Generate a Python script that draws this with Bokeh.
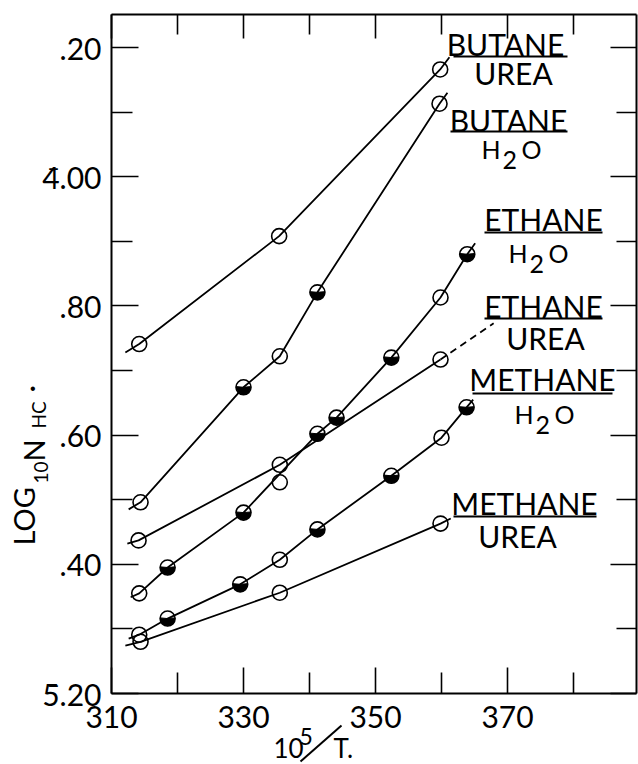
import numpy as np
from bokeh.plotting import figure
from bokeh.models import Range1d, FixedTicker, LinearAxis, Label, Arrow
from bokeh.embed import file_html
from bokeh.resources import INLINE

# ---------------- data ----------------
x_major = [310, 330, 350, 370]
x_minor = [320, 340, 360, 380]
y_major = [-4.8, -4.6, -4.4, -4.2, -4.0, -3.8]
y_minor = [-4.7, -4.5, -4.3, -4.1, -3.9]
y_labels = ["5\u0304.20", ".40", ".60", ".80", "4\u0304.00", ".20"]

butane_urea_open_x = [314.2, 335.4, 359.8]
butane_urea_open_y = [-4.259, -4.092, -3.834]
butane_urea_curve_x = [312.1, 314.2, 335.4, 359.8, 361.2]
butane_urea_curve_y = [-4.272, -4.259, -4.092, -3.834, -3.815]

butane_h2o_open_x = [314.4, 335.5, 359.7]
butane_h2o_open_y = [-4.504, -4.278, -3.887]
butane_h2o_half_x = [330.0, 341.2]
butane_h2o_half_y = [-4.326, -4.179]
butane_h2o_curve_x = [312.6, 314.4, 330.0, 335.5, 341.2, 359.7, 360.9]
butane_h2o_curve_y = [-4.515, -4.504, -4.326, -4.278, -4.179, -3.887, -3.870]

ethane_urea_open_x = [314.1, 335.5, 359.85]
ethane_urea_open_y = [-4.563, -4.446, -4.283]
ethane_urea_curve_x = [312.4, 314.1, 335.5, 359.85]
ethane_urea_curve_y = [-4.568, -4.563, -4.446, -4.283]
ethane_urea_dash_x = [359.85, 367.9]
ethane_urea_dash_y = [-4.283, -4.227]

ethane_h2o_open_x = [314.2, 335.5, 359.85]
ethane_h2o_open_y = [-4.645, -4.473, -4.187]
ethane_h2o_half_x = [318.5, 330.0, 341.2, 344.1, 352.4, 363.9]
ethane_h2o_half_y = [-4.605, -4.520, -4.398, -4.373, -4.280, -4.120]
ethane_h2o_curve_x = [312.9, 314.2, 318.5, 330.0, 341.2, 344.1, 352.4, 359.85, 363.9, 365.1]
ethane_h2o_curve_y = [-4.651, -4.645, -4.605, -4.520, -4.398, -4.373, -4.280, -4.187, -4.120, -4.103]

methane_h2o_open_x = [314.2, 335.5, 360.0]
methane_h2o_open_y = [-4.709, -4.593, -4.404]
methane_h2o_half_x = [318.5, 329.5, 341.2, 352.4, 363.8]
methane_h2o_half_y = [-4.684, -4.631, -4.546, -4.463, -4.357]
methane_h2o_curve_x = [312.6, 314.2, 318.5, 329.5, 335.5, 341.2, 352.4, 360.0, 363.8, 364.8]
methane_h2o_curve_y = [-4.715, -4.709, -4.684, -4.631, -4.593, -4.546, -4.463, -4.404, -4.357, -4.345]

methane_urea_open_x = [314.4, 335.5, 359.85]
methane_urea_open_y = [-4.720, -4.644, -4.537]
methane_urea_curve_x = [312.1, 314.4, 335.5, 359.85, 361.4]
methane_urea_curve_y = [-4.726, -4.720, -4.644, -4.537, -4.529]

# ---------------- geometry ----------------
FONT = "Lato"
W, H = 638, 764
X0, X1 = 310, 389.55          # plotted box, x
Y0, Y1 = -4.8, -3.749         # plotted box, y
LEFT = 111                     # pixel of the box's left edge
PXX = 6.6                      # pixels per x unit
PXY = 646                      # pixels per y unit


def px2x(px):
    return X0 + (px - LEFT) / PXX


def py2y(py):
    return -3.8 - (py - 47) / PXY


# the frame covers the whole canvas, the axes are pinned to the box edges
p = figure(width=W, height=H, x_range=Range1d(px2x(0), px2x(W)), y_range=Range1d(py2y(H), py2y(0)),
           output_backend="svg", toolbar_location=None, min_border=0,
           min_border_left=0, min_border_right=0, min_border_top=0, min_border_bottom=0)
p.title.visible = False
p.grid.visible = False
p.outline_line_color = None
p.background_fill_color = "white"
p.border_fill_color = "white"


def style_axis(ax, major_in, minor_in, labels=True):
    ax.axis_line_width = 2
    ax.axis_line_color = "black"
    ax.major_tick_in = major_in
    ax.major_tick_out = 0
    ax.minor_tick_in = minor_in
    ax.minor_tick_out = 0
    ax.major_tick_line_width = 1.6
    ax.minor_tick_line_width = 1.6
    ax.major_tick_line_color = "black"
    ax.minor_tick_line_color = "black"
    ax.major_label_text_font = FONT
    if labels:
        ax.major_label_text_font_size = "30px"
        ax.major_label_text_color = "black"
    else:
        ax.major_label_text_color = None


xa = p.xaxis[0]
xa.ticker = FixedTicker(ticks=x_major, minor_ticks=x_minor)
xa.fixed_location = Y0
xa.bounds = (X0, X1)
style_axis(xa, 26, 21)
xa.major_label_standoff = 12

ya = p.yaxis[0]
ya.ticker = FixedTicker(ticks=y_major, minor_ticks=y_minor)
ya.major_label_overrides = {k: v for k, v in zip(y_major, y_labels)}
ya.fixed_location = X0
ya.bounds = (Y0, Y1)
style_axis(ya, 27, 21)
ya.major_label_standoff = 10

ra = LinearAxis(ticker=FixedTicker(ticks=y_major, minor_ticks=y_minor), fixed_location=X1, bounds=(Y0, Y1))
style_axis(ra, 26, 20, labels=False)
p.add_layout(ra, "right")

ta = LinearAxis(ticker=FixedTicker(ticks=x_major, minor_ticks=x_minor), fixed_location=Y1, bounds=(X0, X1))
style_axis(ta, 24, 20, labels=False)
p.add_layout(ta, "above")

LW = 1.8
MS = 15


def series(cx, cy, ox, oy, hx=None, hy=None):
    p.line(cx, cy, line_color="black", line_width=LW)
    p.scatter(ox, oy, marker="circle", size=MS, fill_color=None, line_color="black", line_width=1.6)
    if hx is not None:
        p.wedge(hx, hy, radius=7.2, radius_units="screen", start_angle=np.pi * 0.97,
                end_angle=np.pi * 2.03, fill_color="black", line_color="black")
        p.scatter(hx, hy, marker="circle", size=MS, fill_color=None, line_color="black", line_width=1.6)


series(butane_urea_curve_x, butane_urea_curve_y, butane_urea_open_x, butane_urea_open_y)
series(butane_h2o_curve_x, butane_h2o_curve_y, butane_h2o_open_x, butane_h2o_open_y,
       butane_h2o_half_x, butane_h2o_half_y)
series(ethane_urea_curve_x, ethane_urea_curve_y, ethane_urea_open_x, ethane_urea_open_y)
p.line(ethane_urea_dash_x, ethane_urea_dash_y, line_color="black", line_width=LW, line_dash="7 5")
series(ethane_h2o_curve_x, ethane_h2o_curve_y, ethane_h2o_open_x, ethane_h2o_open_y,
       ethane_h2o_half_x, ethane_h2o_half_y)
series(methane_h2o_curve_x, methane_h2o_curve_y, methane_h2o_open_x, methane_h2o_open_y,
       methane_h2o_half_x, methane_h2o_half_y)
series(methane_urea_curve_x, methane_urea_curve_y, methane_urea_open_x, methane_urea_open_y)

# ---------------- curve labels (positions in pixels of the picture) ----------------
def word(text, x_px, mid_py, size=30, align="center"):
    p.add_layout(Label(x=px2x(x_px), y=py2y(mid_py), text=text, text_font=FONT,
                       text_font_size=f"{size}px", text_align=align,
                       text_baseline="middle", text_color="black"))


def h2o(h_left, mid_py):
    word("H", h_left, mid_py, 25, align="left")
    word("2", h_left + 21, mid_py + 11, 25, align="left")
    word("O", h_left + 40, mid_py, 25, align="left")


word("BUTANE", 505, 43)
word("UREA", 513, 72)
word("BUTANE", 508, 119)
h2o(481, 148)
word("ETHANE", 543, 218)
h2o(508, 252)
word("ETHANE", 543, 305)
word("UREA", 545, 337)
word("METHANE", 542, 378)
h2o(514, 413)
word("METHANE", 524, 502)
word("UREA", 517, 535)

underlines = [(453, 567, 56), (450, 567, 131), (484, 602, 232),
              (484, 602, 318), (472, 612, 393), (453, 596, 516)]
p.segment([px2x(a) for a, b, c in underlines], [py2y(c) for a, b, c in underlines],
          [px2x(b) for a, b, c in underlines], [py2y(c) for a, b, c in underlines],
          line_color="black", line_width=2)

# ---------------- axis titles ----------------
def vword(text, mid_px, start_py, size):
    p.add_layout(Label(x=px2x(mid_px), y=py2y(start_py), text=text, text_font=FONT,
                       text_font_size=f"{size}px", angle=np.pi / 2, angle_units="rad",
                       text_align="left", text_baseline="middle", text_color="black"))


vword("LOG", 23, 545, 29)
vword("10", 40, 483, 19)
vword("N", 33, 461, 29)
vword("HC", 38, 428, 19)
vword("\u00b7", 29, 392, 29)

word("10", 273, 747, 26, align="left")
word("5", 299, 736, 23, align="left")
word("T.", 333, 747, 26, align="left")
p.add_layout(Arrow(end=None, x_start=px2x(300), y_start=py2y(761), x_end=px2x(341), y_end=py2y(725),
                   line_color="black", line_width=2))

open("out.html", "w").write(file_html(p, INLINE))
